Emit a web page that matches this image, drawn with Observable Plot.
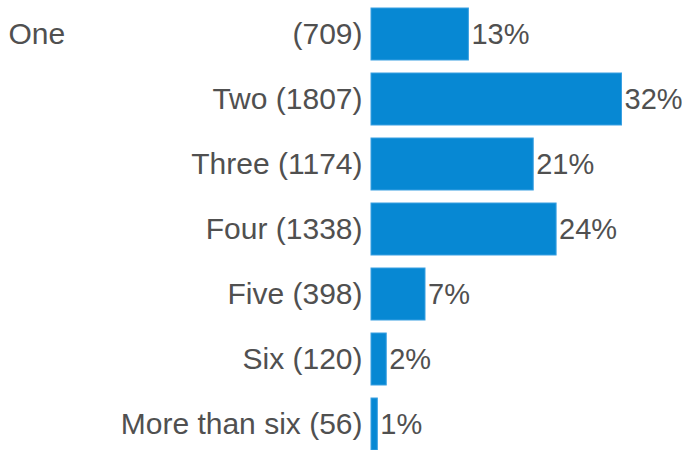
<!DOCTYPE html>
<html>
<head>
<meta charset="utf-8">
<script src="https://cdn.jsdelivr.net/npm/d3@7"></script>
<script src="https://cdn.jsdelivr.net/npm/@observablehq/plot@0.6"></script>
<style>
  html, body { margin: 0; padding: 0; background: #fff; }
  #chart svg { display: block; }
  #chart svg text { font-family: "Liberation Sans", Arial, sans-serif; }
</style>
</head>
<body>
<div id="chart"></div>
<script>
const categories = ["One", "Two", "Three", "Four", "Five", "Six", "More than six"];
const counts = [709, 1807, 1174, 1338, 398, 120, 56];
const percents = [13, 32, 21, 24, 7, 2, 1];
const rightLabels = ["(709)", "Two (1807)", "Three (1174)", "Four (1338)", "Five (398)", "Six (120)", "More than six (56)"];
const leftLabels = ["One", "", "", "", "", "", ""];

const data = categories.map((c, i) => ({
  cat: c,
  count: counts[i],
  pct: percents[i] + "%",
  right: rightLabels[i],
  left: leftLabels[i]
}));

const textColor = "#505050";
const font = "'Liberation Sans', Arial, sans-serif";

const chart = Plot.plot({
  width: 682,
  height: 450,
  marginLeft: 371,
  marginRight: 59,
  marginTop: 8,
  marginBottom: 0,
  style: { fontFamily: font, fontSize: "30px", background: "#fff" },
  x: { domain: [0, 1807], axis: null },
  y: { domain: categories, axis: null, paddingInner: 0.2, paddingOuter: 0 },
  marks: [
    Plot.barX(data, {
      y: "cat", x: "count", fill: "#0788D3", stroke: "#3aa0e2", strokeWidth: 1, insetRight: 1.5
    }),
    Plot.text(data, {
      y: "cat", x: "count", text: "pct", textAnchor: "start", dx: 1,
      fill: textColor, fontSize: 29, fontFamily: font
    }),
    Plot.text(data, {
      y: "cat", frameAnchor: "left", text: "right", textAnchor: "end", dx: -9,
      fill: textColor, fontSize: 30, fontFamily: font
    }),
    Plot.text(data, {
      y: "cat", frameAnchor: "left", text: "left", textAnchor: "start", dx: -363,
      fill: textColor, fontSize: 30, fontFamily: font
    })
  ]
});

document.getElementById("chart").appendChild(chart);
</script>
</body>
</html>
